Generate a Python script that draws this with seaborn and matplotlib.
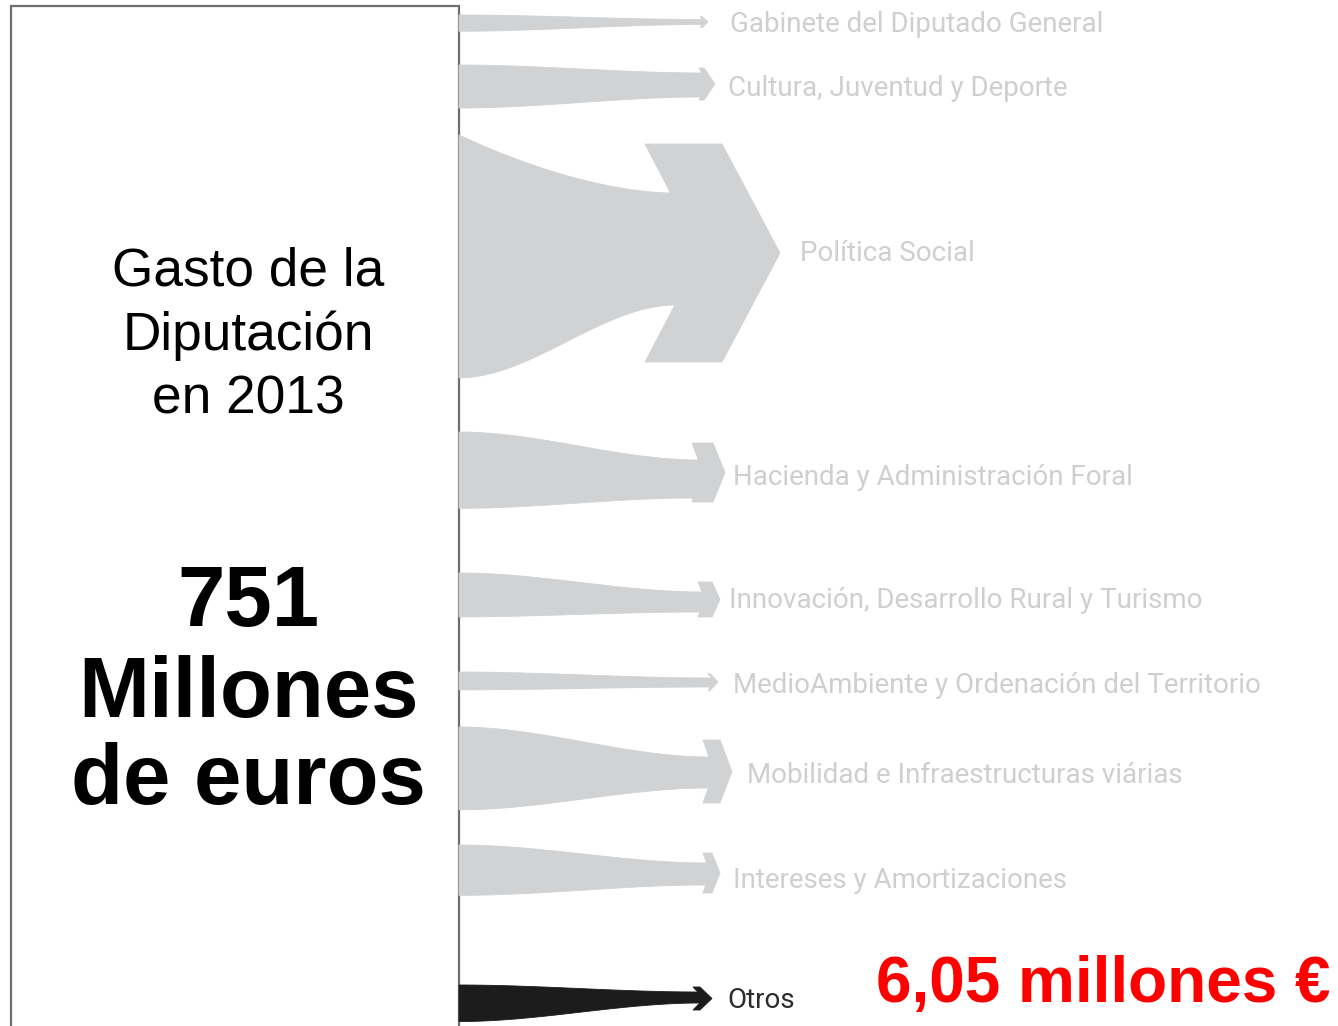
import numpy as np
import matplotlib
matplotlib.use("Agg")
import matplotlib.pyplot as plt
from matplotlib.patches import Polygon, Rectangle
import seaborn as sns

# ---------------- data ----------------
categorias = ["Gabinete del Diputado General", "Cultura, Juventud y Deporte", "Política Social",
              "Hacienda y Administración Foral", "Innovación, Desarrollo Rural y Turismo",
              "MedioAmbiente y Ordenación del Territorio", "Mobilidad e Infraestructuras viárias",
              "Intereses y Amortizaciones", "Otros"]
gasto_millones = [20, 53, 299, 94, 54, 22, 102, 62, 45]
titulo_lineas = ["Gasto de la", "Diputación", "en 2013"]
total_lineas = ["751", "Millones", "de euros"]
otros_texto = "6,05 millones €"

# ---------------- layout (pixel space) ----------------
inicio_y = [15, 65, 135, 432, 573, 672, 727, 845, 985]
fin_arriba = [19.5, 73, 193, 460, 592, 678, 757, 863, 992]
fin_abajo = [24.5, 97, 305, 498, 612, 687, 788, 885, 1003]
punta_centro = [22, 84, 253, 472.5, 599.5, 682, 771.5, 873, 998.5]
punta_semialto = [5.5, 16, 109, 29.5, 17.5, 8.5, 31.5, 20, 11.5]
punta_atras = [700, 699, 645, 692, 698, 708, 703, 703, 693]
punta_plano = [702, 704, 722, 713, 712, 710, 720, 712, 700]
punta_x = [708, 715, 780, 725, 720, 718, 732, 720, 712]
curva_arriba = ["s", "s", "o", "s", "s", "s", "s", "s", "s"]
curva_abajo = ["s", "s", "s", "s", "s", "s", "s", "s", "s"]
etiqueta_x = [730, 728, 800, 733, 729, 733, 747, 733, 727]
etiqueta_y = [22, 86, 251, 475, 598, 683, 773, 878, 998]
escala = 610 / 751  # px per million

W, H = 1338, 1026
X0 = 459

sns.set_theme(style="white")
plt.rcParams["font.family"] = ["Roboto", "DejaVu Sans"]

fig = plt.figure(figsize=(W / 100, H / 100), dpi=100)
ax = fig.add_axes([0, 0, 1, 1])
ax.set_xlim(0, W)
ax.set_ylim(H, 0)
ax.axis("off")

gris = "#d1d2d4"
negro = "#1c1c1c"


def borde(x0, y0, x1, y1, tipo, n=120):
    u = np.linspace(0, 1, n)
    if tipo == "o":
        f = 1 - (1 - u) ** 1.7
    else:
        f = 3 * u ** 2 - 2 * u ** 3
    return x0 + u * (x1 - x0), y0 + f * (y1 - y0)


for i, cat in enumerate(categorias):
    color = negro if cat == "Otros" else gris
    y0t = inicio_y[i]
    y0b = y0t + gasto_millones[i] * escala
    yc = punta_centro[i]
    hh = punta_semialto[i]
    ya, yb = fin_arriba[i], fin_abajo[i]
    xb, xf, xt = punta_atras[i], punta_plano[i], punta_x[i]
    s = (xt - xf) / hh
    xnt = xb + s * max(hh - abs(yc - ya), 0)
    xnb = xb + s * max(hh - abs(yb - yc), 0)
    tx, ty = borde(X0, y0t, xnt, ya, curva_arriba[i])
    bx, by = borde(X0, y0b, xnb, yb, curva_abajo[i])
    pts = np.vstack([np.column_stack([tx, ty]), np.column_stack([bx[::-1], by[::-1]])])
    ax.add_patch(Polygon(pts, closed=True, facecolor=color, edgecolor=color, lw=0.6, zorder=2))
    head = [[xb, yc - hh], [xf, yc - hh], [xt, yc], [xf, yc + hh], [xb, yc + hh],
            [xnb - 0.5, yb], [xnt - 0.5, ya]]
    ax.add_patch(Polygon(head, closed=True, facecolor=color, edgecolor=color, lw=0.6, zorder=2))
    tcol = "#2b2b2b" if cat == "Otros" else "#cfcfcf"
    ax.text(etiqueta_x[i], etiqueta_y[i] + 10, cat, fontsize=20, color=tcol,
            ha="left", va="baseline", family=["Roboto", "DejaVu Sans"], zorder=3)

# box
ax.add_patch(Rectangle((10.5, 5.5), 448, 1100, facecolor="white", edgecolor="#6e6e6e",
                       lw=1.6, zorder=1))

arial = ["Liberation Sans", "DejaVu Sans"]
for txt, yb in zip(titulo_lineas, [286, 350, 413]):
    ax.text(248, yb, txt, fontsize=38.3, ha="center", va="baseline", family=arial,
            color="black", zorder=4)
for txt, yb in zip(total_lineas, [626, 717, 804]):
    ax.text(248, yb, txt, fontsize=61.3, fontweight="bold", ha="center", va="baseline",
            family=arial, color="black", zorder=4)

ax.text(1331, 1002, otros_texto, fontsize=46, fontweight="bold", ha="right", va="baseline",
        family=arial, color="#ff0000", zorder=4)

fig.savefig("out.png", dpi=100)
